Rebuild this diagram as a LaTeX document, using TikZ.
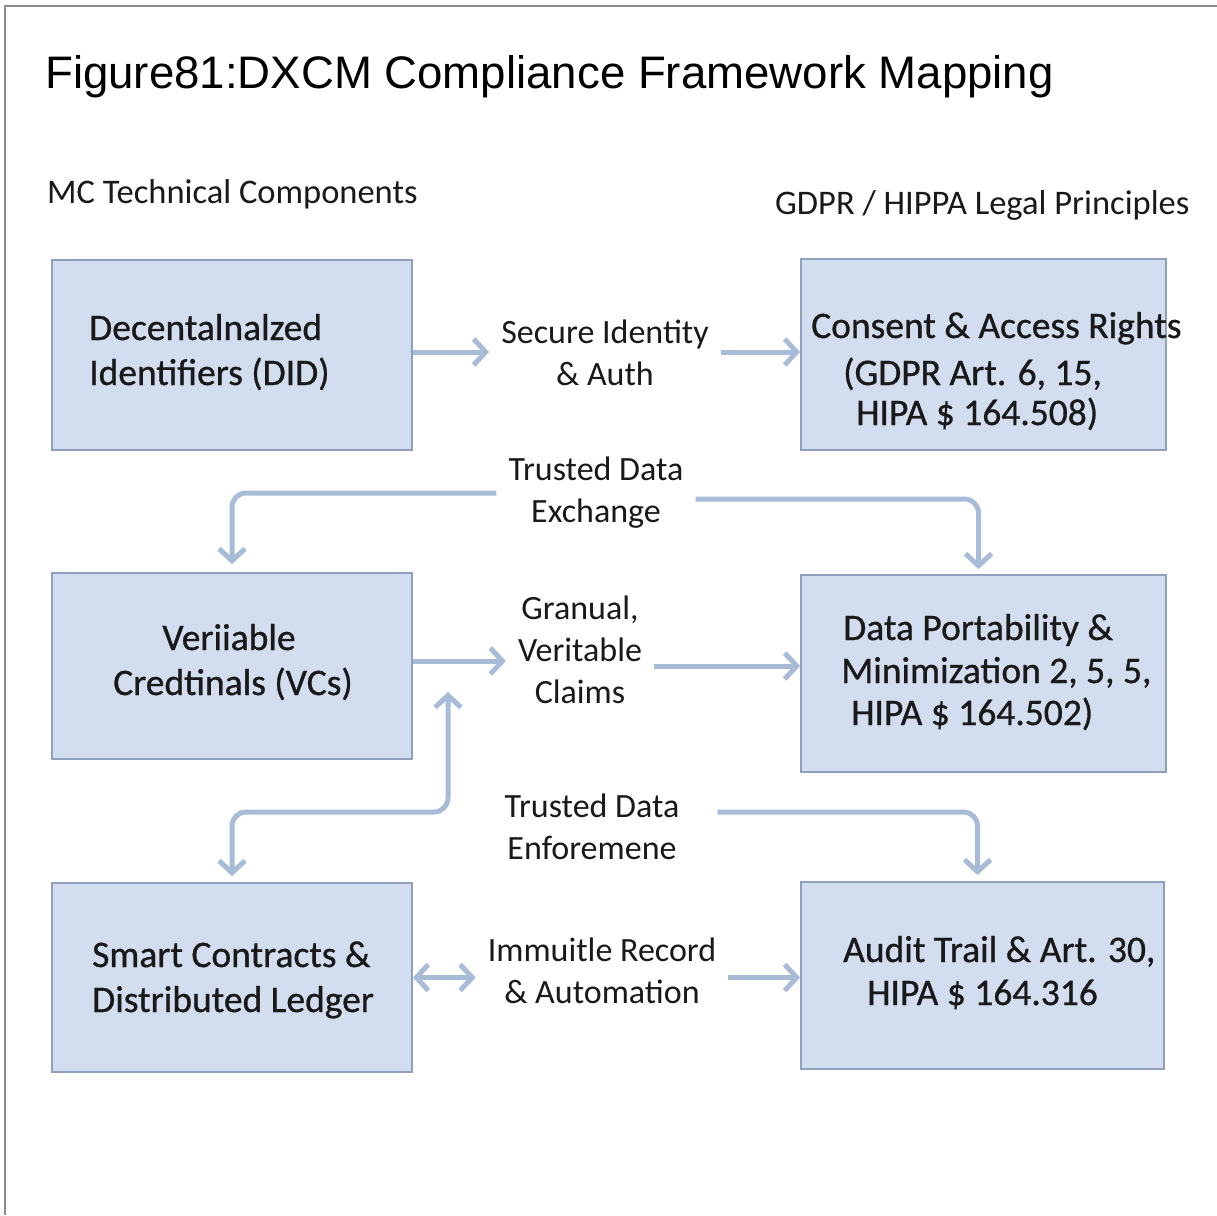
\documentclass[tikz,border=0pt]{standalone}
\usepackage{fontspec}
\setmainfont{Carlito}
\newfontfamily\titlefont{Liberation Sans}
\newfontfamily\boxfont[FakeBold=0.8]{Carlito}
\usetikzlibrary{arrows.meta,calc}
\definecolor{boxfill}{HTML}{D2DEEF}
\definecolor{boxline}{HTML}{8FA0BE}
\definecolor{arrowc}{HTML}{A8BCD8}
\definecolor{framec}{HTML}{8C8C8C}
\tikzset{
  box/.style={draw=boxline, fill=boxfill, line width=1.8pt, rectangle, inner sep=0pt},
  boxtxt/.style={inner sep=0pt, anchor=base west, font=\boxfont\fontsize{37.5}{42}\selectfont, text=black!90},
  lbl/.style={inner sep=12pt, align=center, font=\fontsize{34}{42}\selectfont, text=black!90},
  hdr/.style={inner sep=0pt, anchor=base west, font=\fontsize{34.5}{40}\selectfont, text=black!90},
  tip/.tip={Straight Barb[length=12pt,width=26pt]},
  arr/.style={draw=arrowc, line width=5pt, -tip},
  arrboth/.style={draw=arrowc, line width=5pt, tip-tip},
  conn/.style={draw=arrowc, line width=5pt, rounded corners=14pt, -tip}
}
\begin{document}
\begin{tikzpicture}[x=1pt,y=-1pt]
\useasboundingbox (0,0) rectangle (1217,1215);
\fill[white] (0,0) rectangle (1217,1215);
\draw[framec, line width=1.5pt] (5,1215) -- (5,6) -- (1217,6);

% title and headers
\node[inner sep=0pt, anchor=base west, font=\titlefont\fontsize{45.6}{50}\selectfont] (title) at (45,88) {Figure81:DXCM Compliance Framework Mapping};
\node[hdr] (hleft) at (47,203) {MC Technical Components};
\node[hdr] (hright) at (775,214) {GDPR / HIPPA Legal Principles};

% boxes
\node[box, minimum width=360pt, minimum height=190pt] (did) at (232,355) {};
\node[box, minimum width=365pt, minimum height=191pt] (consent) at (983.5,354.5) {};
\node[box, minimum width=360pt, minimum height=186pt] (vc) at (232,666) {};
\node[box, minimum width=365pt, minimum height=197pt] (port) at (983.5,673.5) {};
\node[box, minimum width=360pt, minimum height=189pt] (smart) at (232,977.5) {};
\node[box, minimum width=363pt, minimum height=187pt] (audit) at (982.5,975.5) {};

% box texts
\node[boxtxt] (did1) at (89,340) {Decentalnalzed};
\node[boxtxt] (did2) at (89,385) {Identifiers (DID)};
\node[boxtxt] (con1) at (811,338) {Consent \& Access Rights};
\node[boxtxt] (con2) at (843,385) {(GDPR Art. 6, 15,};
\node[boxtxt] (con3) at (856,425) {HIPA \$ 164.508)};
\node[boxtxt, anchor=base] (vc1) at (229,650) {Veriiable};
\node[boxtxt] (vc2) at (113,695) {Credtinals (VCs)};
\node[boxtxt] (por1) at (843,640) {Data Portability \&};
\node[boxtxt] (por2) at (841,683) {Minimization 2, 5, 5,};
\node[boxtxt] (por3) at (851,725) {HIPA \$ 164.502)};
\node[boxtxt] (sm1) at (92,967) {Smart Contracts \&};
\node[boxtxt] (sm2) at (92,1012) {Distributed Ledger};
\node[boxtxt] (au1) at (843,962) {Audit Trail \& Art. 30,};
\node[boxtxt] (au2) at (867,1005) {HIPA \$ 164.316};

% connector labels
\node[lbl] (sec) at (605,353) {Secure Identity\\\& Auth};
\node[lbl] (ex) at (596,493) {Trusted Data\\Exchange};
\node[lbl] (gr) at (580,650) {Granual,\\Veritable\\Claims};
\node[lbl] (en) at (592,827) {Trusted Data\\Enforemene};
\node[lbl] (im) at (602,971) {Immuitle Record\\\& Automation};

\coordinate (vcport) at (448,692);
\coordinate (bend) at (448,812);

% connectors
\draw[arr] ([yshift=3pt]did.east) -- ([yshift=3pt]did.east -| sec.west);
\draw[arr] ([yshift=3pt]did.east -| sec.east) -- ([yshift=3pt]did.east -| consent.west);

\draw[conn] (ex.west) -| ([yshift=8pt]vc.north);
\draw[conn] ([yshift=-6pt]ex.east) -| ([xshift=-5pt,yshift=5pt]port.north);

\draw[arr] ([yshift=5pt]vc.east) -- ([yshift=5pt]vc.east -| gr.west);
\draw[arr] (vc.east -| gr.east) -- (vc.east -| port.west);

\draw[arrboth, rounded corners=14pt] ([yshift=6pt]smart.north) |- (bend) -- (vcport);
\draw[conn] ([xshift=26pt,yshift=15pt]en.east) -| ([xshift=-5pt,yshift=6pt]audit.north);

\draw[arrboth] (smart.east) -- (smart.east -| im.west);
\draw[arr] (smart.east -| im.east) -- (smart.east -| audit.west);
\end{tikzpicture}
\end{document}
